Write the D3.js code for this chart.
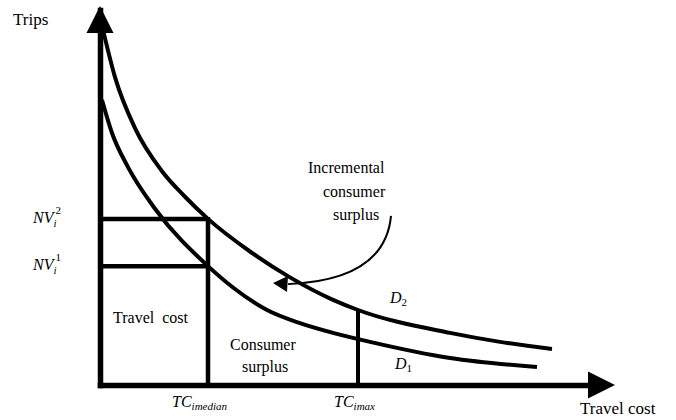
<!DOCTYPE html>
<html>
<head>
<meta charset="utf-8">
<script src="https://cdn.jsdelivr.net/npm/d3@7"></script>
<style>
    body { margin: 0; background: #fff; }
    svg { display: block; }
    text { white-space: pre; }
</style>
</head>
<body>
<div id="chart"></div>
<script>
// demand curves (travel cost vs trips, arbitrary units)
const costD2 = [0.06, 0.3, 0.7, 1.24, 1.7, 2.16, 3.0, 3.8, 4.66, 5.16, 7.0, 8.0, 9.04];
const tripsD2 = [9.47, 8.21, 6.85, 5.7, 5.02, 4.43, 3.56, 2.87, 2.27, 2.0, 1.39, 1.15, 0.96];
const costD1 = [0.04, 0.24, 0.56, 1.1, 2.16, 2.66, 3.34, 4.0, 4.66, 5.4, 7.0, 8.74];
const tripsD1 = [7.6, 6.72, 5.81, 4.7, 3.17, 2.6, 2.0, 1.65, 1.39, 1.15, 0.72, 0.48];

const tcLevels = [2.16, 5.16];          // TC_imedian, TC_imax
const tcLabels = ['imedian', 'imax'];
const nvLevels = [3.17, 4.43];          // NV_i^1, NV_i^2
const nvLabels = ['1', '2'];
const annotationLines = ['Incremental', 'consumer', 'surplus'];

const width = 676;
const height = 420;
const serif = '"Liberation Serif", "Times New Roman", "DejaVu Serif", serif';

const x = d3.scaleLinear().domain([0, 10]).range([100, 600]);
const y = d3.scaleLinear().domain([0, 10]).range([385, 10]);

const svg = d3.select('#chart')
    .append('svg')
    .attr('width', width)
    .attr('height', height)
    .attr('font-family', serif);

const d2 = costD2.map((c, i) => ({ cost: c, trips: tripsD2[i] }));
const d1 = costD1.map((c, i) => ({ cost: c, trips: tripsD1[i] }));

const line = d3.line()
    .x(d => x(d.cost))
    .y(d => y(d.trips))
    .curve(d3.curveMonotoneX);

// Axes (no ticks, just heavy lines with arrow heads)
svg.append('g')
    .attr('transform', `translate(0,${y(0)})`)
    .call(d3.axisBottom(x).tickValues([]).tickSizeOuter(0));
svg.append('g')
    .attr('transform', `translate(${x(0)},0)`)
    .call(d3.axisLeft(y).tickValues([]).tickSizeOuter(0));
svg.selectAll('.domain')
    .attr('stroke', '#000')
    .attr('stroke-width', 5.5)
    .attr('stroke-linecap', 'square');

const xEnd = x.range()[1];
const yEnd = y.range()[1];
svg.append('path')
    .attr('d', `M${xEnd - 12},${y(0) - 13.5}L${xEnd + 15},${y(0)}L${xEnd - 12},${y(0) + 13.5}Z`)
    .attr('fill', '#000');
svg.append('path')
    .attr('d', `M${x(0) - 13.5},${yEnd + 23}L${x(0)},${yEnd - 4}L${x(0) + 13.5},${yEnd + 23}Z`)
    .attr('fill', '#000');

// Rectangle for travel cost / consumer surplus
nvLevels.forEach(v => {
    svg.append('line')
        .attr('x1', x(0)).attr('x2', x(tcLevels[0]))
        .attr('y1', y(v)).attr('y2', y(v))
        .attr('stroke', '#000').attr('stroke-width', 4.5);
});
svg.append('line')
    .attr('x1', x(tcLevels[0])).attr('x2', x(tcLevels[0]))
    .attr('y1', y(nvLevels[1]) - 2).attr('y2', y(0))
    .attr('stroke', '#000').attr('stroke-width', 4.5);
svg.append('line')
    .attr('x1', x(tcLevels[1])).attr('x2', x(tcLevels[1]))
    .attr('y1', y(tripsD2[costD2.indexOf(tcLevels[1])])).attr('y2', y(0))
    .attr('stroke', '#000').attr('stroke-width', 4);

// Demand curves
[d2, d1].forEach(data => {
    svg.append('path')
        .datum(data)
        .attr('d', line)
        .attr('fill', 'none')
        .attr('stroke', '#000')
        .attr('stroke-width', 4);
});

// Annotation arrow
const p = d3.path();
p.moveTo(x(5.82), y(4.51));
p.quadraticCurveTo(x(5.7), y(2.8), x(3.76), y(2.69));
svg.append('path')
    .attr('d', p.toString())
    .attr('fill', 'none')
    .attr('stroke', '#000')
    .attr('stroke-width', 2);
const tipX = x(3.46), tipY = y(2.72);
svg.append('path')
    .attr('d', `M${tipX},${tipY}L${tipX + 15},${tipY - 7}L${tipX + 14},${tipY + 9}Z`)
    .attr('fill', '#000');

// Text
svg.append('text').attr('x', 13).attr('y', 25).attr('font-size', 17).text('Trips');
svg.append('text').attr('x', 580).attr('y', 414).attr('font-size', 17).text('Travel cost');

svg.append('text').attr('x', 113).attr('y', 323).attr('font-size', 16).text('Travel  cost');
svg.append('text').attr('x', 230).attr('y', 350).attr('font-size', 16).text('Consumer');
svg.append('text').attr('x', 242).attr('y', 372).attr('font-size', 16).text('surplus');

const annX = [308, 323, 333];
annotationLines.forEach((t, i) => {
    svg.append('text').attr('x', annX[i]).attr('y', 173 + i * 23.5)
        .attr('font-size', 16).text(t);
});

// NV labels on y side
nvLevels.forEach((v, i) => {
    const t = svg.append('text')
        .attr('x', 33).attr('y', y(v) + 4)
        .attr('font-size', 16).attr('font-style', 'italic');
    t.append('tspan').text('NV');
    t.append('tspan').attr('font-size', 11).attr('dy', 4).text('i');
    t.append('tspan').attr('font-size', 11).attr('font-style', 'normal')
        .attr('dx', -1).attr('dy', -13).text(nvLabels[i]);
});

// TC labels under x axis
const tcX = [172, 334];
tcLevels.forEach((v, i) => {
    const t = svg.append('text')
        .attr('x', tcX[i]).attr('y', 407)
        .attr('font-size', 16).attr('font-style', 'italic');
    t.append('tspan').text('TC');
    t.append('tspan').attr('font-size', 11).attr('dy', 3).text(tcLabels[i]);
});

// Curve labels
[['2', 390, 303], ['1', 395, 369]].forEach(([s, lx, ly]) => {
    const t = svg.append('text').attr('x', lx).attr('y', ly).attr('font-size', 16);
    t.append('tspan').attr('font-style', 'italic').text('D');
    t.append('tspan').attr('font-size', 11).attr('dy', 3).text(s);
});
</script>
</body>
</html>
